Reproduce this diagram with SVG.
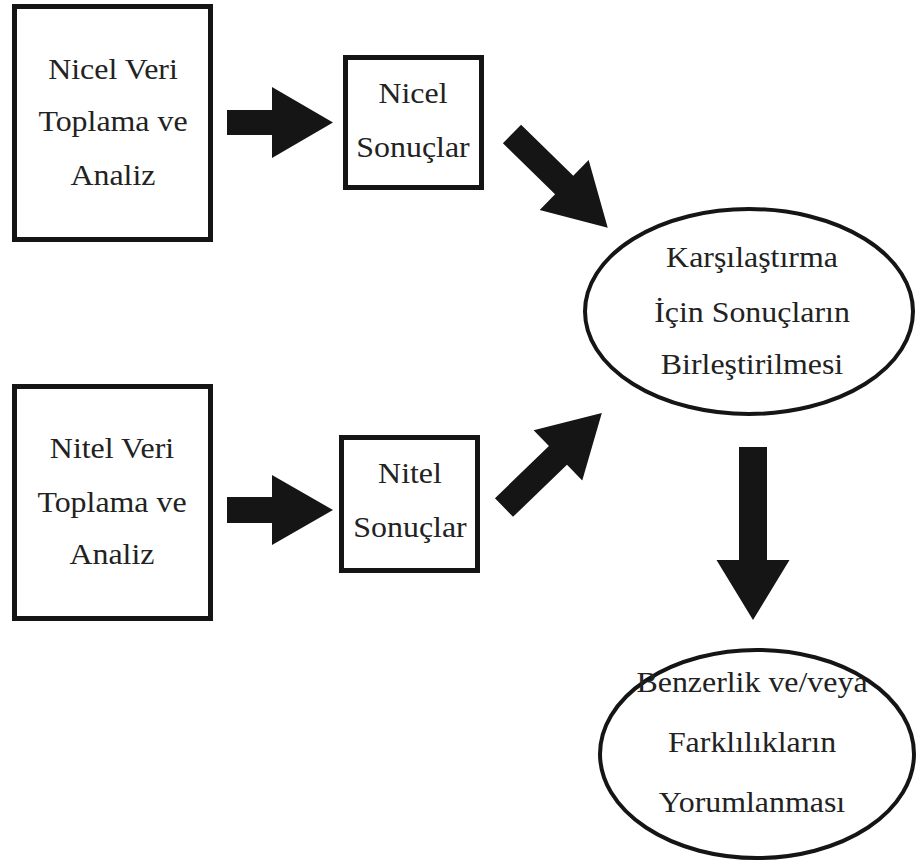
<svg xmlns="http://www.w3.org/2000/svg" width="917" height="861" viewBox="0 0 917 861">
  <style>
    .box { fill: #ffffff; stroke: #151515; stroke-width: 5; }
    .oval { fill: #ffffff; stroke: #151515; stroke-width: 4; }
    .arrow { fill: #151515; stroke: none; }
    .lbl { font-family: 'Liberation Serif', 'DejaVu Serif', serif; font-size: 29px; fill: #222222; text-anchor: middle; }
  </style>
  <rect width="917" height="861" fill="#ffffff"/>

  <!-- connectors: block arrows -->
  <g id="connectors">
    <path class="arrow" d="M227,110 H272 V87 L333,122.5 L272,158 V135 H227 Z"/>
    <path class="arrow" d="M227,497 H272 V475 L333,510 L272,545 V523 H227 Z"/>
    <path class="arrow" d="M0,-13 H73 V-35 L134,0 L73,35 V13 H0 Z" transform="translate(512,134) rotate(44.4)"/>
    <path class="arrow" d="M0,-13 H75 V-35 L136,0 L75,35 V13 H0 Z" transform="translate(504,507.5) rotate(-44)"/>
    <path class="arrow" d="M0,-14 H113 V-36.5 L173,0 L113,36.5 V14 H0 Z" transform="translate(753,447) rotate(90)"/>
  </g>

  <g id="nicel-veri">
    <rect class="box" x="14.5" y="6.5" width="196" height="233"/>
    <g class="lbl" font-family="Liberation Serif, DejaVu Serif, serif" transform="translate(113,0) scale(1.1,1)">
      <text x="0" y="79">Nicel Veri</text>
      <text x="0" y="131">Toplama ve</text>
      <text x="0" y="185">Analiz</text>
    </g>
  </g>

  <g id="nicel-sonuclar">
    <rect class="box" x="345.5" y="57.5" width="136" height="130"/>
    <g class="lbl" font-family="Liberation Serif, DejaVu Serif, serif" transform="translate(413,0) scale(1.1,1)">
      <text x="0" y="103">Nicel</text>
      <text x="0" y="157">Sonuçlar</text>
    </g>
  </g>

  <g id="nitel-veri">
    <rect class="box" x="14.5" y="386.5" width="196" height="232"/>
    <g class="lbl" font-family="Liberation Serif, DejaVu Serif, serif" transform="translate(112,0) scale(1.1,1)">
      <text x="0" y="458">Nitel Veri</text>
      <text x="0" y="512">Toplama ve</text>
      <text x="0" y="564">Analiz</text>
    </g>
  </g>

  <g id="nitel-sonuclar">
    <rect class="box" x="341.5" y="437.5" width="136" height="133"/>
    <g class="lbl" font-family="Liberation Serif, DejaVu Serif, serif" transform="translate(410,0) scale(1.1,1)">
      <text x="0" y="483">Nitel</text>
      <text x="0" y="537">Sonuçlar</text>
    </g>
  </g>

  <g id="birlestirme">
    <ellipse class="oval" cx="749" cy="311.5" rx="164" ry="102.5"/>
    <g class="lbl" font-family="Liberation Serif, DejaVu Serif, serif" transform="translate(752,0) scale(1.1,1)">
      <text x="0" y="267">Karşılaştırma</text>
      <text x="0" y="322">İçin Sonuçların</text>
      <text x="0" y="374">Birleştirilmesi</text>
    </g>
  </g>

  <g id="yorumlama">
    <ellipse class="oval" cx="757" cy="754" rx="157" ry="104"/>
    <g class="lbl" font-family="Liberation Serif, DejaVu Serif, serif" transform="translate(752,0) scale(1.1,1)">
      <text x="0" y="692">Benzerlik ve/veya</text>
      <text x="0" y="752">Farklılıkların</text>
      <text x="0" y="812">Yorumlanması</text>
    </g>
  </g>
</svg>
